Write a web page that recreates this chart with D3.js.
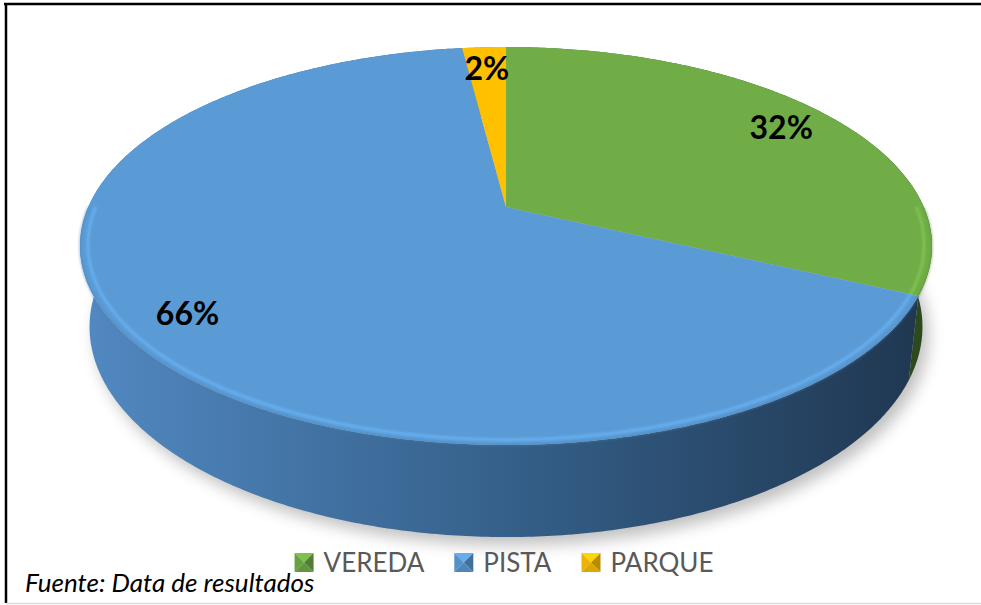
<!DOCTYPE html>
<html>
<head>
<meta charset="utf-8">
<script src="https://cdn.jsdelivr.net/npm/d3@7"></script>
<style>
  body { margin: 0; background: #fff; }
  svg { display: block; }
</style>
</head>
<body>
<div id="chart-area"></div>
<script>
// chart data
var categories = ["VEREDA", "PISTA", "PARQUE"];
var values = [32, 66, 2];
var labels = ["32%", "66%", "2%"];
var colors = ["#70AD47", "#5B9BD5", "#FFC000"];
var source = "Fuente: Data de resultados";

var width = 981, height = 605;

var svg = d3.select("#chart-area")
    .append("svg")
        .attr("width", width)
        .attr("height", height);

var defs = svg.append("defs");

// perspective camera for the 3d pie
var cx = 506, cy = 207, F = 1895, D = 4.536;
var sinP = 0.458, cosP = Math.sqrt(1 - sinP * sinP);
var thick = 0.219;

function proj(a, r, h) {
    var x = r * Math.sin(a), z = r * Math.cos(a);
    var depth = D + z * cosP - h * sinP;
    var yc = z * sinP + h * cosP;
    return [cx + F * x / depth, cy - F * yc / depth];
}

function arcPoints(a0, a1, r, h) {
    var n = Math.max(2, Math.ceil(Math.abs(a1 - a0) / 0.01));
    return d3.range(n + 1).map(function(i) {
        return proj(a0 + (a1 - a0) * i / n, r, h);
    });
}

var line = d3.line();

var pie = d3.pie().sort(null).startAngle(0).endAngle(2 * Math.PI);
var arcs = pie(values);

// shadow
var blur = defs.append("filter").attr("id", "shadow")
    .attr("x", "-20%").attr("y", "-20%").attr("width", "140%").attr("height", "140%");
blur.append("feGaussianBlur").attr("stdDeviation", 8);

var soft = defs.append("filter").attr("id", "soft");
soft.append("feGaussianBlur").attr("stdDeviation", 1.3);

svg.append("path")
    .attr("d", line(arcPoints(0, 2 * Math.PI, 1, -thick)) + "Z")
    .attr("transform", "translate(6,8)")
    .attr("fill", "#000")
    .attr("opacity", 0.25)
    .attr("filter", "url(#shadow)");

// side gradients
var sideStops = [
    ["#6aa443", "#4d7b31", "#2c471c"],
    ["#5289c2", "#35608a", "#1f364f"],
    ["#f2b600", "#b98a00", "#7a5b00"]
];
sideStops.forEach(function(s, i) {
    var g = defs.append("linearGradient")
        .attr("id", "side" + i)
        .attr("gradientUnits", "userSpaceOnUse")
        .attr("x1", 80).attr("x2", 932).attr("y1", 0).attr("y2", 0);
    g.append("stop").attr("offset", 0).attr("stop-color", s[0]);
    g.append("stop").attr("offset", 0.5).attr("stop-color", s[1]);
    g.append("stop").attr("offset", 1).attr("stop-color", s[2]);
});

// side walls
svg.append("g").selectAll("path")
    .data(arcs)
    .enter()
    .append("path")
        .attr("d", function(d) {
            var top = arcPoints(d.startAngle, d.endAngle, 1, 0);
            var bot = arcPoints(d.endAngle, d.startAngle, 1, -thick);
            return line(top.concat(bot)) + "Z";
        })
        .attr("fill", function(d, i) { return "url(#side" + i + ")"; });

// top faces
svg.append("g").selectAll("path")
    .data(arcs)
    .enter()
    .append("path")
        .attr("d", function(d) {
            var pts = [proj(0, 0, 0)].concat(arcPoints(d.startAngle, d.endAngle, 1, 0));
            return line(pts) + "Z";
        })
        .attr("fill", function(d, i) { return colors[i]; });

// bevel rim on the front edge
function rimPath(r) {
    return function(d) {
        var a0 = Math.max(d.startAngle, Math.PI * 0.5);
        var a1 = Math.min(d.endAngle, Math.PI * 1.5);
        if (a1 <= a0) return null;
        return line(arcPoints(a0, a1, r, 0));
    };
}

svg.append("g").selectAll("path")
    .data(arcs)
    .enter()
    .append("path")
        .attr("d", rimPath(1))
        .attr("fill", "none")
        .attr("stroke", function(d, i) { return d3.color(colors[i]).darker(0.6); })
        .attr("stroke-width", 2)
        .attr("opacity", 0.45)
        .attr("filter", "url(#soft)");

svg.append("g").selectAll("path")
    .data(arcs)
    .enter()
    .append("path")
        .attr("d", rimPath(0.982))
        .attr("fill", "none")
        .attr("stroke", function(d, i) { return d3.color(colors[i]).brighter(0.45); })
        .attr("stroke-width", 3)
        .attr("opacity", 0.75)
        .attr("filter", "url(#soft)");

// data labels
svg.append("g").selectAll("text")
    .data(arcs)
    .enter()
    .append("text")
        .attr("x", function(d) { return proj((d.startAngle + d.endAngle) / 2, 0.85, 0)[0]; })
        .attr("y", function(d) { return proj((d.startAngle + d.endAngle) / 2, 0.85, 0)[1]; })
        .attr("text-anchor", "middle")
        .attr("dominant-baseline", "central")
        .attr("font-family", "Lato, 'Open Sans', sans-serif")
        .attr("font-weight", "bold")
        .attr("font-size", 32)
        .attr("fill", "#000")
        .text(function(d, i) { return labels[i]; });

// legend
var legend = svg.append("g");
var items = legend.selectAll("g")
    .data(categories)
    .enter()
    .append("g");

items.each(function(c, i) {
    var g = d3.select(this);
    var s = 19, base = d3.color(colors[i]);
    var q = [[0, 0], [s, 0], [s, s], [0, s]], m = [s / 2, s / 2];
    var shades = [base.brighter(0.3), base.darker(0.9), base.darker(0.4), base.darker(0.2)];
    for (var k = 0; k < 4; k++) {
        g.append("path")
            .attr("d", line([q[k], q[(k + 1) % 4], m]) + "Z")
            .attr("fill", shades[k]);
    }
    g.append("text")
        .attr("x", s + 10)
        .attr("y", s)
        .attr("font-family", "Lato, 'Open Sans', sans-serif")
        .attr("font-size", 26)
        .attr("fill", "#595959")
        .text(c);
});

var xpos = 0;
items.each(function() {
    var g = d3.select(this);
    var w = 29 + g.select("text").node().getComputedTextLength();
    g.attr("transform", "translate(" + xpos + ",0)");
    xpos += w + 30;
});
var total = xpos - 30;
legend.attr("transform", "translate(" + (504 - total / 2) + ",553)");

// source note
svg.append("text")
    .attr("x", 25)
    .attr("y", 592)
    .attr("font-family", "Lato, 'Open Sans', sans-serif")
    .attr("font-style", "italic")
    .attr("font-size", 26)
    .attr("fill", "#000")
    .text(source);

// frame
svg.append("line")
    .attr("x1", 4).attr("x2", width).attr("y1", 4).attr("y2", 4)
    .attr("stroke", "#000").attr("stroke-width", 2.5);
svg.append("line")
    .attr("x1", 6).attr("x2", 6).attr("y1", 3).attr("y2", 603)
    .attr("stroke", "#000").attr("stroke-width", 2.5);
svg.append("line")
    .attr("x1", 6).attr("x2", width).attr("y1", 603.5).attr("y2", 603.5)
    .attr("stroke", "#d9d9d9").attr("stroke-width", 1.5);
</script>
</body>
</html>
